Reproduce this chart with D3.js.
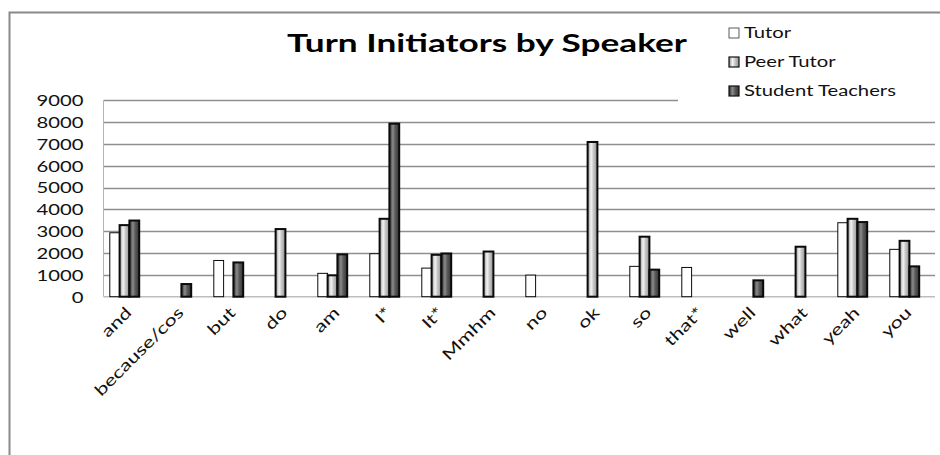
<!DOCTYPE html>
<html>
<head>
<meta charset="utf-8">
<script src="https://cdn.jsdelivr.net/npm/d3@7"></script>
<style>
  body { margin: 0; background: #fff; }
  svg { display: block; }
</style>
</head>
<body>
<script>
var categories = ["and", "because/cos", "but", "do", "am", "I*", "It*", "Mmhm", "no", "ok", "so", "that*", "well", "what", "yeah", "you"];
var tutor = [2930, 0, 1660, 0, 1070, 1970, 1310, 0, 990, 0, 1390, 1340, 0, 0, 3390, 2170];
var peerTutor = [3280, 0, 0, 3100, 980, 3570, 1920, 2070, 0, 7090, 2750, 0, 0, 2290, 3570, 2560];
var studentTeachers = [3490, 580, 1570, 0, 1940, 7930, 1980, 0, 0, 0, 1240, 0, 750, 0, 3420, 1390];
var seriesNames = ["Tutor", "Peer Tutor", "Student Teachers"];
var yTicks = [0, 1000, 2000, 3000, 4000, 5000, 6000, 7000, 8000, 9000];

var W = 940, H = 455;
var sx = 1.35; // the picture is stretched sideways, so is its text
var font = "Lato, 'Open Sans', sans-serif";

var svg = d3.select("body").append("svg")
    .attr("width", W)
    .attr("height", H);

var defs = svg.append("defs");
function grad(id, stops) {
    var g = defs.append("linearGradient")
        .attr("id", id)
        .attr("x1", "0%").attr("y1", "0%")
        .attr("x2", "100%").attr("y2", "0%");
    stops.forEach(function(s) {
        g.append("stop").attr("offset", s[0]).attr("stop-color", s[1]);
    });
}
grad("peer", [["0%", "#8a8a8a"], ["35%", "#f4f4f4"], ["60%", "#c8c8c8"], ["100%", "#8e8e8e"]]);
grad("student", [["0%", "#2e2e2e"], ["35%", "#8a8a8a"], ["60%", "#5a5a5a"], ["100%", "#333"]]);

// chart frame
svg.append("rect")
    .attr("x", 9.5).attr("y", 12.5)
    .attr("width", 1000).attr("height", 600)
    .attr("fill", "#fff")
    .attr("stroke", "#8a8a8a")
    .attr("stroke-width", 2);

var plotLeft = 103.5, plotRight = 935;
var x = d3.scaleBand()
    .domain(categories)
    .range([98.5, 930.5]);
var y = d3.scaleLinear()
    .domain([0, 9000])
    .range([296.7, 100.3]);

var fills = ["#fff", "url(#peer)", "url(#student)"];
var strokeW = [1, 2, 2];
var barW = 9.8;

// gridlines
svg.append("g").selectAll("line")
    .data(yTicks.slice(1))
    .join("line")
    .attr("x1", plotLeft).attr("x2", plotRight)
    .attr("y1", function(d) { return Math.round(y(d)) + 0.5; })
    .attr("y2", function(d) { return Math.round(y(d)) + 0.5; })
    .attr("stroke", "#8f8f8f")
    .attr("stroke-width", 1.3);

svg.append("line")
    .attr("x1", plotLeft).attr("x2", plotLeft)
    .attr("y1", y(9000)).attr("y2", y(0))
    .attr("stroke", "#b5b5b5");
svg.append("line")
    .attr("x1", plotLeft).attr("x2", plotRight)
    .attr("y1", y(0)).attr("y2", y(0))
    .attr("stroke", "#bdbdbd")
    .attr("stroke-width", 1.5);

// y axis labels
var yAxis = svg.append("g")
    .attr("transform", "translate(" + plotLeft + ",0)")
    .call(d3.axisLeft(y).tickValues(yTicks).tickSize(0).tickFormat(d3.format("d")));
yAxis.select(".domain").remove();
yAxis.selectAll("text")
    .attr("x", null)
    .attr("dy", "0.36em")
    .attr("transform", "translate(-20,0) scale(" + sx + ",1)")
    .style("font-family", font)
    .style("font-size", "15px")
    .attr("fill", "#111");

// bars
var series = [tutor, peerTutor, studentTeachers];
series.forEach(function(vals, si) {
    svg.append("g").selectAll("rect")
        .data(categories.map(function(c, i) { return { c: c, v: vals[i] }; })
            .filter(function(d) { return d.v > 0; }))
        .join("rect")
        .attr("x", function(d) { return x(d.c) + x.bandwidth() / 2 + (si - 1.5) * barW; })
        .attr("y", function(d) { return y(d.v); })
        .attr("width", barW)
        .attr("height", function(d) { return y(0) - y(d.v); })
        .attr("fill", fills[si])
        .attr("stroke", "#0a0a0a")
        .attr("stroke-width", strokeW[si]);
});

// x axis labels
var xAxis = svg.append("g")
    .attr("transform", "translate(0," + y(0) + ")")
    .call(d3.axisBottom(x).tickSize(0));
xAxis.select(".domain").remove();
xAxis.selectAll("text")
    .attr("y", null)
    .attr("dy", null)
    .attr("text-anchor", "end")
    .attr("transform", "translate(8,17) rotate(-45) scale(" + sx + ",1)")
    .style("font-family", font)
    .style("font-size", "16px")
    .attr("fill", "#111");

// legend
svg.append("rect")
    .attr("x", 678).attr("y", 15)
    .attr("width", 257).attr("height", 89)
    .attr("fill", "#fff");
var leg = svg.append("g").selectAll("g")
    .data(seriesNames)
    .join("g")
    .attr("transform", function(d, i) { return "translate(729," + (33 + i * 29) + ")"; });
leg.append("rect")
    .attr("x", 0).attr("y", -5)
    .attr("width", 10).attr("height", 10)
    .attr("fill", function(d, i) { return fills[i]; })
    .attr("stroke", function(d, i) { return i === 0 ? "#333" : "#111"; })
    .attr("stroke-width", function(d, i) { return i === 0 ? 0.8 : 1.2; });
leg.append("text")
    .attr("transform", "translate(15,0) scale(" + sx + ",1)")
    .attr("dy", "0.36em")
    .style("font-family", font)
    .style("font-size", "15px")
    .attr("fill", "#111")
    .text(function(d) { return d; });

// title
svg.append("text")
    .attr("x", 487)
    .attr("y", 52)
    .attr("text-anchor", "middle")
    .attr("textLength", 400)
    .attr("lengthAdjust", "spacingAndGlyphs")
    .style("font-family", font)
    .style("font-size", "24px")
    .style("font-weight", "bold")
    .attr("fill", "#000")
    .text("Turn Initiators by Speaker");
</script>
</body>
</html>
